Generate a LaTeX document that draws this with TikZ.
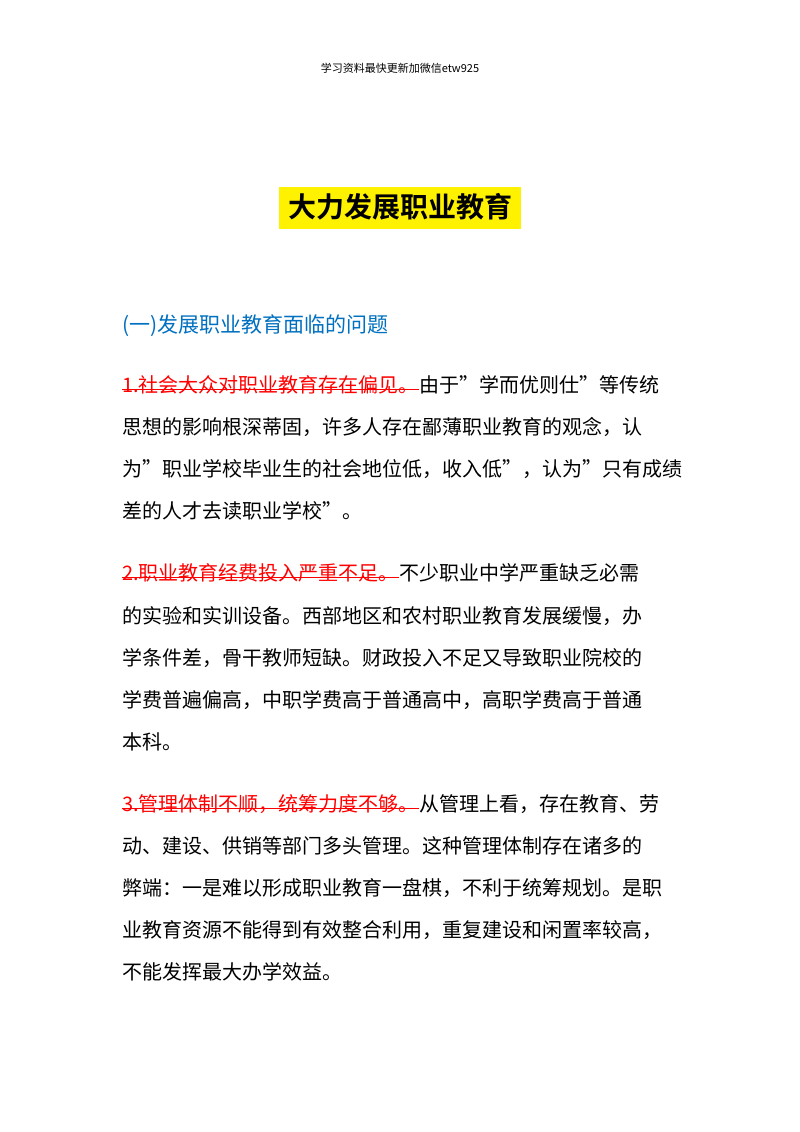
\documentclass[tikz,border=0pt]{standalone}
\usepackage{fontspec}
\setmainfont{Noto Sans CJK SC}
\newfontfamily\cjkb{Noto Sans CJK SC Bold}
\definecolor{hdblue}{RGB}{0,112,192}
\begin{document}
\begin{tikzpicture}[x=1pt,y=-1pt,
  ln/.style={anchor=base west,inner sep=0pt,font=\fontsize{20}{24}\selectfont},
  rd/.style={ln,text=red},
  cont/.style={anchor=base west,inner sep=0pt,font=\fontsize{20}{24}\selectfont}]
\useasboundingbox[fill=white] (0,0) rectangle (800,1132);
\node[inner sep=0pt,font=\fontsize{11}{13}\selectfont] (hdr) at (400,68) {学习资料最快更新加微信etw925};
\fill[yellow] (279,187) rectangle (521,229);
\node[inner sep=0pt,font=\cjkb\fontsize{28}{32}\selectfont] (title) at (400,207) {大力发展职业教育};
\node[ln,text=hdblue,font=\fontsize{21}{24}\selectfont] (sub) at (122,332) {(一)发展职业教育面临的问题};
% para 1
\node[rd] (r1) at (122,392) {1.社会大众对职业教育存在偏见。};
\node[cont] (c1) at (r1.base east) {由于"学而优则仕"等传统};
\draw[red,line width=1pt] ([yshift=3]r1.base west) -- ([yshift=3]r1.base east);
\node[ln] (l12) at (122,434) {思想的影响根深蒂固，许多人存在鄙薄职业教育的观念，认};
\node[ln] (l13) at (122,476) {为"职业学校毕业生的社会地位低，收入低"，认为"只有成绩};
\node[ln] (l14) at (122,518) {差的人才去读职业学校"。};
% para 2
\node[rd] (r2) at (122,580) {2.职业教育经费投入严重不足。};
\node[cont] (c2) at (r2.base east) {不少职业中学严重缺乏必需};
\draw[red,line width=1pt] ([yshift=3]r2.base west) -- ([yshift=3]r2.base east);
\node[ln] (l22) at (122,623) {的实验和实训设备。西部地区和农村职业教育发展缓慢，办};
\node[ln] (l23) at (122,665) {学条件差，骨干教师短缺。财政投入不足又导致职业院校的};
\node[ln] (l24) at (122,707) {学费普遍偏高，中职学费高于普通高中，高职学费高于普通};
\node[ln] (l25) at (122,749) {本科。};
% para 3
\node[rd] (r3) at (122,811) {3.管理体制不顺，统筹力度不够。};
\node[cont] (c3) at (r3.base east) {从管理上看，存在教育、劳};
\draw[red,line width=1pt] ([yshift=3]r3.base west) -- ([yshift=3]r3.base east);
\node[ln] (l32) at (122,853) {动、建设、供销等部门多头管理。这种管理体制存在诸多的};
\node[ln] (l33) at (122,895) {弊端：一是难以形成职业教育一盘棋，不利于统筹规划。是职};
\node[ln] (l34) at (122,937) {业教育资源不能得到有效整合利用，重复建设和闲置率较高，};
\node[ln] (l35) at (122,979) {不能发挥最大办学效益。};
\end{tikzpicture}
\end{document}
